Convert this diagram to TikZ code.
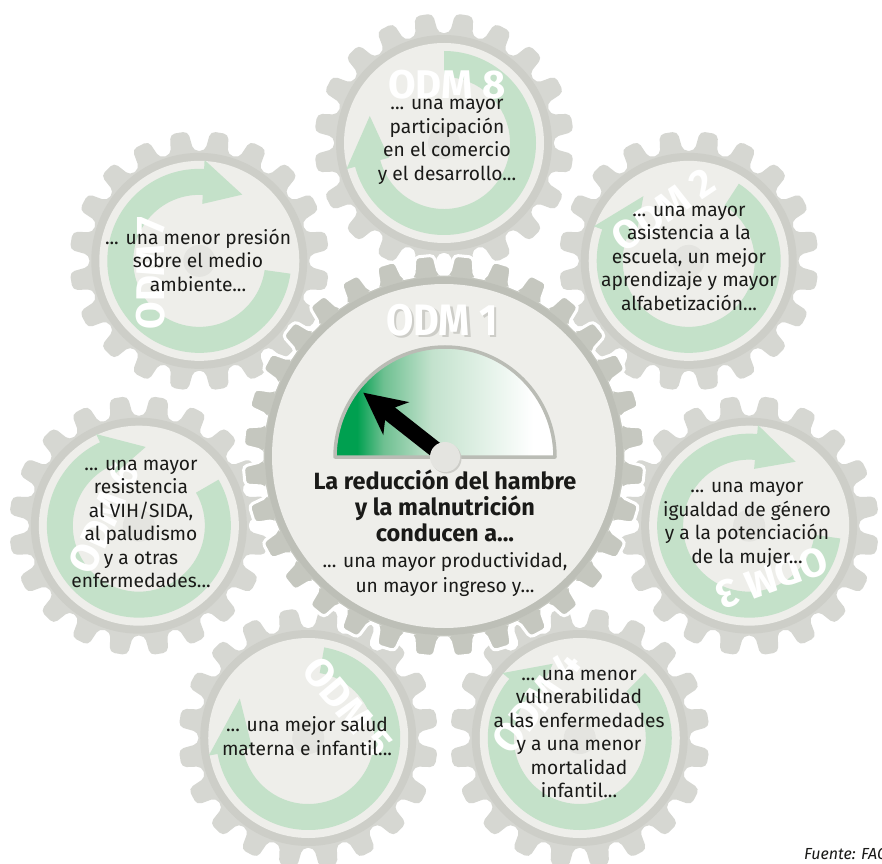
\documentclass[tikz,border=0pt]{standalone}
\usepackage{fontspec}
\setmainfont{Fira Sans}
\newfontfamily\odmfont{Fira Sans}
\newfontfamily\odmonefont[FakeStretch=0.9]{Fira Sans}
\usetikzlibrary{calc}

\definecolor{gearlight}{RGB}{214,215,210}
\definecolor{gearring}{RGB}{205,206,200}
\definecolor{face}{RGB}{238,238,234}
\definecolor{band}{RGB}{196,225,201}
\definecolor{geardark}{RGB}{197,199,191}
\definecolor{gearringdark}{RGB}{189,191,183}
\definecolor{hubc}{RGB}{228,228,224}
\definecolor{gg1}{RGB}{0,160,80}
\definecolor{gg2}{RGB}{110,192,145}
\definecolor{gg3}{RGB}{195,226,205}
\definecolor{rimc}{RGB}{186,188,181}
\definecolor{shadowc}{RGB}{205,205,200}
\definecolor{txt}{RGB}{26,26,24}

\pgfdeclarehorizontalshading{gaugeshade}{100bp}{color(0bp)=(gg1); color(25bp)=(gg1); color(30bp)=(gg1); color(36bp)=(gg2); color(47bp)=(gg3); color(70bp)=(white); color(100bp)=(white)}

\newcommand\satgear[1]{%
  \begin{scope}[shift={(#1)}]
    \fill[gearlight, rounded corners=5pt] (0:110) \foreach \ti in {1,...,20}{ -- ({(\ti-0.5)*18-6}:110) -- ({(\ti-0.5)*18-4}:130) -- ({(\ti-0.5)*18+4}:130) -- ({(\ti-0.5)*18+6}:110) -- ({\ti*18}:110)} -- cycle;
    \fill[gearring] (0,0) circle[radius=108];
    \fill[face] (0,0) circle[radius=100];
    \fill[hubc] (0,0) circle[radius=16];
  \end{scope}}

\newcommand\odmband[4]{% centre, tail, base, tip
  \begin{scope}[shift={(#1)}]
    \fill[band] (#2:92) arc[start angle=#2, end angle=#3, radius=92] -- (#3:101) -- (#4:79) -- (#3:57) -- (#3:66) arc[start angle=#3, end angle=#2, radius=66] -- cycle;
  \end{scope}}

\begin{document}
\begin{tikzpicture}[x=1pt,y=1pt,
  sattext/.style={align=center, text=txt, inner sep=0pt, font=\fontsize{19.2}{23.5}\selectfont},
  odmlabel/.style={text=white, inner sep=0pt, font=\odmfont\bfseries\fontsize{40}{40}\selectfont}]
\fill[white] (0,0) rectangle (882,863);
\useasboundingbox (0,0) rectangle (882,863);

\coordinate (m) at (444,407);
\coordinate (c8) at ($(m)+(90:313)$);
\coordinate (c2) at ($(m)+(38.57:313)$);
\coordinate (c3) at ($(m)+(-12.86:313)$);
\coordinate (c4) at ($(m)+(-64.29:313)$);
\coordinate (c5) at ($(m)+(-115.71:313)$);
\coordinate (c6) at ($(m)+(-167.14:313)$);
\coordinate (c7) at ($(m)+(141.43:313)$);

% satellite gears
\satgear{c8}\satgear{c2}\satgear{c3}\satgear{c4}\satgear{c5}\satgear{c6}\satgear{c7}

% green arrows
\odmband{c8}{90}{-165}{-200}
\odmband{c7}{-8}{-273}{-303}
\odmband{c2}{57}{-200}{-235}
\odmband{c3}{-8}{-275}{-306}
\odmband{c4}{45}{-220}{-250}
\odmband{c5}{80}{-170}{-210}
\odmband{c6}{30}{-245}{-275}

% ODM labels on satellites
\node[odmlabel] (l8) at (447,778) {ODM 8};
\node[odmlabel, rotate=90] (l7) at (151,590) {ODM 7};
\node[odmlabel, rotate=34] (l2) at (663,653) {ODM 2};
\node[odmlabel, rotate=66] (l6) at (104,345) {ODM 6};
\node[odmlabel, rotate=200] (l3) at (772,285) {ODM 3};
\node[odmlabel, rotate=-50] (l5) at (348,156) {ODM 5};
\node[odmlabel, rotate=52] (l4) at (537,161) {ODM 4};

% satellite texts
\node[sattext] (t8) at (447,721) {... una mayor\\participación\\en el comercio\\y el desarrollo...};
\node[sattext] (t7) at (198,603) {... una menor presión\\sobre el medio\\ambiente...};
\node[sattext] (t2) at (689,605) {... una mayor\\asistencia a la\\escuela, un mejor\\aprendizaje y mayor\\alfabetización...};
\node[sattext] (t3) at (747,338) {... una mayor\\igualdad de género\\y a la potenciación\\de la mujer...};
\node[sattext] (t4) at (579,129) {... una menor\\vulnerabilidad\\a las enfermedades\\y a una menor\\mortalidad\\infantil...};
\node[sattext] (t5) at (307,127) {... una mejor salud\\materna e infantil...};
\node[sattext] (t6) at (141,339) {... una mayor\\resistencia\\al VIH/SIDA,\\al paludismo\\y a otras\\enfermedades...};

% main gear
\begin{scope}[shift={(m)}]
  \fill[geardark, draw=white, line width=3pt, rounded corners=4pt] (0:182) \foreach \ti in {1,...,32}{ -- ({(\ti-0.5)*11.25-3.9}:182) -- ({(\ti-0.5)*11.25-2.7}:201) -- ({(\ti-0.5)*11.25+2.7}:201) -- ({(\ti-0.5)*11.25+3.9}:182) -- ({\ti*11.25}:182)} -- cycle;
  \fill[gearringdark] (0,0) circle[radius=179];
  \fill[face] (0,0) circle[radius=172];
\end{scope}

% ODM 1 label
\node[odmlabel, text=shadowc, font=\odmonefont\bfseries\fontsize{44}{44}\selectfont] (l1s) at (444.5,540.5) {ODM 1};
\node[odmlabel, font=\odmonefont\bfseries\fontsize{44}{44}\selectfont] (l1) at (442,543) {ODM 1};

% gauge
\coordinate (g) at (445,406);
\fill[shading=gaugeshade] ($(g)+(-110,0)$) arc[start angle=180, end angle=0, radius=110] -- cycle;
\draw[rimc, line width=3.5pt, line join=round] ($(g)+(-110,0)$) arc[start angle=180, end angle=0, radius=110] -- cycle;
\begin{scope}[shift={(g)}, rotate=141.8]
  \fill[black] (0,-8) -- (70,-8) -- (62,-21) -- (104,0) -- (62,21) -- (70,8) -- (0,8) -- cycle;
\end{scope}
\fill[shadowc] ($(g)+(1.5,-1.5)$) circle[radius=15];
\fill[hubc] (g) circle[radius=15];

% main texts
\node[align=center, text=txt, inner sep=0pt, font=\bfseries\fontsize{23.5}{26}\selectfont] (mt) at (445,357) {La reducción del hambre\\y la malnutrición\\conducen a...};
\node[align=center, text=txt, inner sep=0pt, font=\fontsize{19.2}{25}\selectfont] (st) at (445,288) {... una mayor productividad,\\un mayor ingreso y...};

% source
\node[anchor=base west, text=txt, inner sep=0pt, font=\itshape\fontsize{16}{16}\selectfont] (src) at (804,4) {Fuente: FAO};
\end{tikzpicture}
\end{document}
